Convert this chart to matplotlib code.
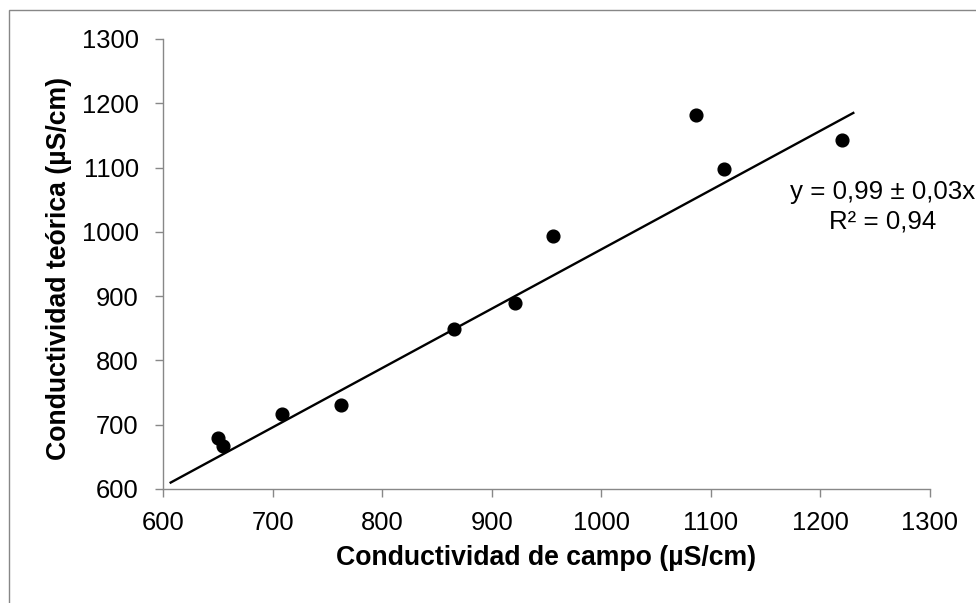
import matplotlib
matplotlib.use("Agg")
import matplotlib.pyplot as plt
from matplotlib.patches import Rectangle

plt.rcParams['font.family'] = ['Liberation Sans', 'DejaVu Sans']

# Data
campo = [650, 655, 709, 762, 866, 921, 956, 1086, 1112, 1220]
teorica = [680, 667, 716, 730, 849, 889, 994, 1182, 1097, 1143]
trend_x = [607, 1230]
trend_y = [610, 1185]
ticks = [600, 700, 800, 900, 1000, 1100, 1200, 1300]
xlabel = "Conductividad de campo (µS/cm)"
ylabel = "Conductividad teórica (µS/cm)"
eq_line1 = "y = 0,99 ± 0,03x"
eq_line2 = "R² = 0,94"

W, H = 976, 603
fig = plt.figure(figsize=(W / 100, H / 100), dpi=100)

# outer chart border (cropped at right/bottom in the reference)
fig.patches.append(Rectangle((9 / W, -0.05), 1.2, 1 - 10 / H + 0.05,
                             transform=fig.transFigure, fill=False,
                             edgecolor='#878787', linewidth=1.0, zorder=0))

ax = fig.add_axes([163 / W, 1 - 489 / H, (930 - 163) / W, (489 - 39) / H])
ax.set_xlim(600, 1300)
ax.set_ylim(600, 1300)
ax.set_xticks(ticks)
ax.set_yticks(ticks)
ax.set_xticklabels([str(t) for t in ticks])
ax.set_yticklabels([str(t) for t in ticks])

for s in ['top', 'right']:
    ax.spines[s].set_visible(False)
for s in ['left', 'bottom']:
    ax.spines[s].set_color('#888888')
    ax.spines[s].set_linewidth(1.0)

ax.tick_params(axis='both', direction='out', length=5.5, width=1.0,
               color='#888888', labelsize=18.4, labelcolor='black')
ax.tick_params(axis='x', pad=10)
ax.tick_params(axis='y', pad=12)

ax.plot(trend_x, trend_y, color='black', linewidth=1.7, zorder=2, clip_on=False)
ax.scatter(campo, teorica, s=84, color='black', zorder=3, clip_on=False)

fig.text(546.5 / W, 1 - 558 / H, xlabel, ha='center', va='center',
         fontsize=19.2, fontweight='bold')
fig.text(59 / W, 1 - 268 / H, ylabel, ha='center', va='center',
         rotation=90, fontsize=19.2, fontweight='bold')

fig.text(883 / W, 1 - 192 / H, eq_line1, ha='center', va='center', fontsize=18.6)
fig.text(883 / W, 1 - 221 / H, eq_line2, ha='center', va='center', fontsize=18.6)

fig.savefig("out.png", dpi=100)
